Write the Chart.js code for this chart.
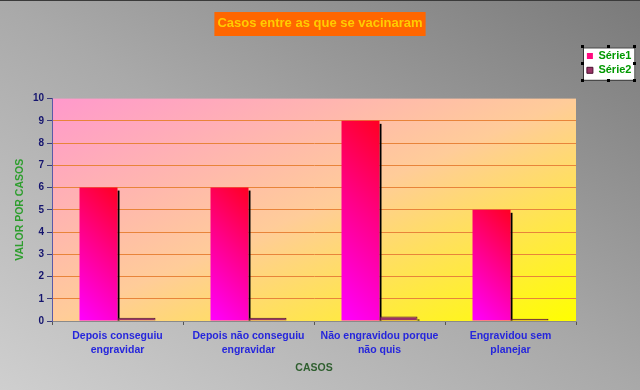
<!DOCTYPE html>
<html>
<head>
<meta charset="utf-8">
<script src="https://cdn.jsdelivr.net/npm/chart.js@4.4.1/dist/chart.umd.min.js"></script>
<style>
  html, body { margin: 0; padding: 0; }
  body {
    width: 640px; height: 390px; overflow: hidden;
    background: linear-gradient(to top right, #cfcfcf 0%, #a9a9a9 50%, #7a7a7a 100%);
  }
  #wrap { position: relative; width: 640px; height: 390px; }
  #topline { position: absolute; left: 0; top: 0; width: 640px; height: 1px; background: #3a3a3a; }
</style>
</head>
<body>
<div id="wrap">
  <div id="topline"></div>
  <canvas id="chart"></canvas>
</div>
<script>
const FONT = "'Liberation Sans', Arial, sans-serif";

// data
const categories = [
    ["Depois conseguiu", "engravidar"],
    ["Depois não conseguiu", "engravidar"],
    ["Não engravidou porque", "não quis"],
    ["Engravidou sem", "planejar"]
];
const serie1 = [6, 6, 9, 5];
const serie2 = [0.15, 0.15, 0.2, 0.1];
const seriesNames = ["Série1", "Série2"];
const chartTitle = "Casos entre as que se vacinaram";
const xTitle = "CASOS";
const yTitle = "VALOR POR CASOS";
const yMin = 0, yMax = 10, yStep = 1;

// backgrounds, title box, legend box, bar shadows + gradients
const decor = {
    id: "decor",
    beforeInit(chart) {
        const legend = chart.legend;
        const fit = legend.fit;
        legend.fit = function () { fit.call(this); this.width = 64; };
    },
    afterLayout(chart) {
        const lg = chart.legend;
        lg.left += 7.5; lg.right += 7.5;
        lg.top += 47;
    },
    beforeDraw(chart) {
        const ctx = chart.ctx;
        const a = chart.chartArea;
        const w = a.right - a.left, h = a.bottom - a.top;

        // plot area: pink top-left -> yellow bottom-right
        const k = 2 * w * h / (w * w + h * h);
        const g = ctx.createLinearGradient(a.left, a.top, a.left + h * k, a.top + w * k);
        g.addColorStop(0, "#ff99cc");
        g.addColorStop(0.5, "#ffcc99");
        g.addColorStop(1, "#ffff00");
        ctx.save();
        ctx.fillStyle = g;
        ctx.fillRect(a.left, a.top, w, h);

        // orange box behind the title
        ctx.font = "bold 13px " + FONT;
        const tw = ctx.measureText(chartTitle).width;
        ctx.fillStyle = "#ff6600";
        ctx.fillRect(chart.width / 2 - tw / 2 - 3, 12, tw + 6, 24);

        // legend box with selection handles
        const hb = chart.legend.legendHitBoxes;
        if (hb && hb.length) {
            const l = Math.min(...hb.map(b => b.left)) - 4;
            const t = Math.min(...hb.map(b => b.top)) - 3;
            const r = Math.max(...hb.map(b => b.left + b.width)) + 4;
            const bt = Math.max(...hb.map(b => b.top + b.height)) + 5;
            ctx.fillStyle = "#ffffff";
            ctx.fillRect(l, t, r - l, bt - t);
            ctx.strokeStyle = "#222";
            ctx.lineWidth = 1;
            ctx.strokeRect(l + 0.5, t + 0.5, r - l - 1, bt - t - 1);
            ctx.fillStyle = "#000";
            const mx = (l + r) / 2, my = (t + bt) / 2;
            [[l, t], [mx, t], [r, t], [l, my], [r, my], [l, bt], [mx, bt], [r, bt]].forEach(p => {
                ctx.fillRect(Math.round(p[0]) - 2, Math.round(p[1]) - 2, 3, 3);
            });
        }
        ctx.restore();
    },
    beforeDatasetsDraw(chart) {
        const ctx = chart.ctx;
        ctx.save();
        ctx.fillStyle = "#000";
        chart.data.datasets.forEach((ds, i) => {
            chart.getDatasetMeta(i).data.forEach(el => {
                const right = el.x + el.width / 2;
                const hgt = el.base - el.y;
                if (hgt > 3) ctx.fillRect(right, el.y + 3, 2, hgt - 3);
                if (i === 0) {
                    const left = el.x - el.width / 2;
                    const d = (el.width + hgt) / 2;
                    const g = ctx.createLinearGradient(left, el.base, left + d, el.base - d);
                    g.addColorStop(0, "#ff00ff");
                    g.addColorStop(0.55, "#ff0088");
                    g.addColorStop(1, "#ff0022");
                    el.options.backgroundColor = g;
                }
            });
        });
        ctx.restore();
    }
};

const ctx = document.getElementById("chart").getContext("2d");
const chart = new Chart(ctx, {
    type: "bar",
    data: {
        labels: categories,
        datasets: [
            { label: seriesNames[0], data: serie1, backgroundColor: () => "#ff0a80", borderWidth: 0,
              barPercentage: 1, categoryPercentage: 0.58 },
            { label: seriesNames[1], data: serie2, backgroundColor: "#993366", borderColor: "#4a1030", borderWidth: 1,
              barPercentage: 1, categoryPercentage: 0.58 }
        ]
    },
    options: {
        responsive: true,
        maintainAspectRatio: false,
        animation: false,
        layout: { padding: 0 },
        plugins: {
            title: {
                display: true,
                text: chartTitle,
                color: "#ffcc00",
                font: { family: FONT, size: 13, weight: "bold", lineHeight: 1.2 },
                padding: { top: 16, bottom: 67 }
            },
            legend: {
                position: "right",
                align: "start",
                labels: {
                    boxWidth: 6, boxHeight: 6, padding: 3.4,
                    color: "#009900",
                    font: { family: FONT, size: 11, weight: "bold" }
                }
            },
            tooltip: { enabled: false }
        },
        scales: {
            x: {
                afterFit(s) { s.height = 69; },
                grid: { offset: true, drawOnChartArea: false, tickLength: 4, color: "#555555" },
                border: { color: "#8a8a8a" },
                ticks: {
                    color: "#2626dc", autoSkip: false, maxRotation: 0, padding: 4,
                    font: { family: FONT, size: 10.5, weight: "bold", lineHeight: 1.33 }
                },
                title: {
                    display: true, text: xTitle, color: "#2f5f2f",
                    font: { family: FONT, size: 10.5, weight: "bold", lineHeight: 1.2 },
                    padding: { top: 0, bottom: 15.7 }
                }
            },
            y: {
                min: yMin, max: yMax,
                afterFit(s) { s.width = 52; },
                grid: {
                    color: c => (c.tick && c.tick.value === yMax) ? "rgba(0,0,0,0)" : "#e8843a",
                    tickColor: "#3a3a7a", tickLength: 5
                },
                border: { color: "#5a5aa8" },
                ticks: {
                    stepSize: yStep, color: "#14146e", padding: 3,
                    font: { family: FONT, size: 10, weight: "bold" }
                },
                title: {
                    display: true, text: yTitle, color: "#2e9e2e",
                    font: { family: FONT, size: 10.5, weight: "bold", lineHeight: 1.2 },
                    padding: { top: 13.7, bottom: 0 }
                }
            }
        }
    },
    plugins: [decor]
});
</script>
</body>
</html>
